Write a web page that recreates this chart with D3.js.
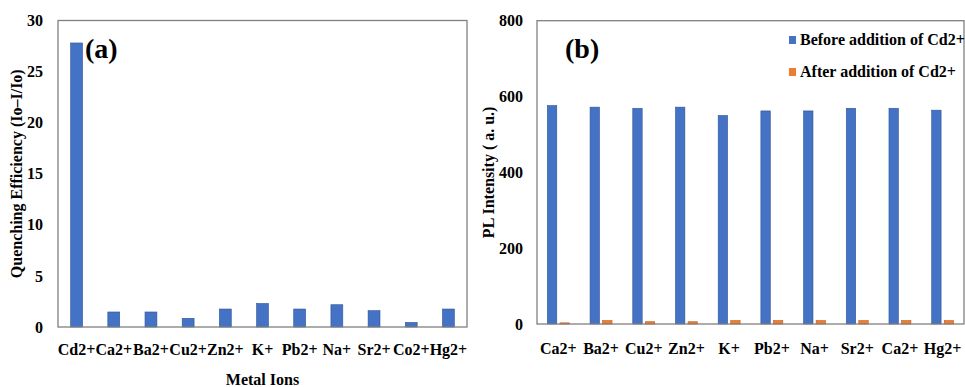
<!DOCTYPE html>
<html><head><meta charset="utf-8">
<script src="https://cdn.jsdelivr.net/npm/d3@7"></script>
<style>
body{margin:0;background:#fff;}
svg text{font-family:"Liberation Serif","Times New Roman",Times,"Nimbus Roman","DejaVu Serif",serif !important;font-weight:bold;fill:#000;}
</style></head>
<body>
<svg id="c" width="965" height="387"></svg>
<script>
// Panel (a)
const ionsA = ["Cd2+","Ca2+","Ba2+","Cu2+","Zn2+","K+","Pb2+","Na+","Sr2+","Co2+","Hg2+"];
const quenching = [27.8,1.47,1.47,0.85,1.76,2.3,1.76,2.18,1.6,0.45,1.76];
const ticksA = [0,5,10,15,20,25,30];
// Panel (b)
const ionsB = ["Ca2+","Ba2+","Cu2+","Zn2+","K+","Pb2+","Na+","Sr2+","Ca2+","Hg2+"];
const before = [576,572,569,572,550,562,562,569,569,564];
const after = [3,9,6,6,9,9,9,9,9,9];
const ticksB = [0,200,400,600,800];
const seriesNames = ["Before addition of Cd2+","After addition of Cd2+"];
const colors = ["#4472C4","#ED7D31"];

const svg = d3.select("#c");
const styleText = g=>g.selectAll("text").attr("font-size",16).attr("font-weight","bold").attr("fill","#000");

// ---------- Panel A ----------
const A = {l:58,r:467,t:20.5,b:327};
const xA = d3.scaleBand().domain(d3.range(ionsA.length)).range([A.l,A.r]).paddingInner(0.68).paddingOuter(0.34);
const yA = d3.scaleLinear().domain([0,30]).range([A.b,A.t]);
const gA = svg.append("g");
gA.selectAll("rect.bar").data(quenching).join("rect")
  .attr("x",(d,i)=>xA(i)).attr("y",d=>yA(d))
  .attr("width",xA.bandwidth()).attr("height",d=>yA(0)-yA(d))
  .attr("fill",colors[0]).attr("stroke","#2F5597").attr("stroke-width",0.6);
gA.append("rect").attr("x",A.l).attr("y",A.t).attr("width",A.r-A.l).attr("height",A.b-A.t)
  .attr("fill","none").attr("stroke","#808080").attr("stroke-width",1.3);
gA.append("g").attr("transform",`translate(${A.l},0)`)
  .call(d3.axisLeft(yA).tickValues(ticksA).tickSize(0).tickPadding(15))
  .call(g=>g.select(".domain").remove()).call(styleText);
gA.append("g").attr("transform",`translate(0,${A.b})`)
  .call(d3.axisBottom(xA).tickFormat(i=>ionsA[i]).tickSize(0).tickPadding(17))
  .call(g=>g.select(".domain").remove()).call(styleText);
gA.append("text").attr("transform",`translate(22,${(A.t+A.b)/2}) rotate(-90)`)
  .attr("text-anchor","middle").attr("font-size",16).text("Quenching Efficiency (Io–I/Io)");
gA.append("text").attr("x",(A.l+A.r)/2).attr("y",385).attr("text-anchor","middle")
  .attr("font-size",16).text("Metal Ions");
gA.append("text").attr("x",85).attr("y",58).attr("font-size",28).text("(a)");

// ---------- Panel B ----------
const B = {l:537,r:964,t:20.7,b:324};
const xB = d3.scaleBand().domain(d3.range(ionsB.length)).range([B.l,B.r]).paddingInner(0.486).paddingOuter(0.243);
const xSub = d3.scaleBand().domain([0,1]).range([0,xB.bandwidth()]).paddingInner(0.25);
const yB = d3.scaleLinear().domain([0,800]).range([B.b,B.t]);
const gB = svg.append("g");
[before, after].forEach((s,k)=>{
  gB.selectAll("rect.s"+k).data(s).join("rect").attr("class","s"+k)
    .attr("x",(d,i)=>xB(i)+xSub(k)).attr("y",d=>yB(d))
    .attr("width",xSub.bandwidth()).attr("height",d=>yB(0)-yB(d))
    .attr("fill",colors[k]).attr("stroke",k===0?"#2F5597":"#C55A11").attr("stroke-width",0.6);
});
gB.append("rect").attr("x",B.l).attr("y",B.t).attr("width",B.r-B.l).attr("height",B.b-B.t)
  .attr("fill","none").attr("stroke","#808080").attr("stroke-width",1.3);
gB.append("g").attr("transform",`translate(${B.l},0)`)
  .call(d3.axisLeft(yB).tickValues(ticksB).tickSize(0).tickPadding(14))
  .call(g=>g.select(".domain").remove()).call(styleText);
gB.append("g").attr("transform",`translate(0,${B.b})`)
  .call(d3.axisBottom(xB).tickFormat(i=>ionsB[i]).tickSize(0).tickPadding(19))
  .call(g=>g.select(".domain").remove()).call(styleText);
gB.append("text").attr("transform",`translate(494,${(B.t+B.b)/2}) rotate(-90)`)
  .attr("text-anchor","middle").attr("font-size",16).text("PL Intensity ( a. u.)");
gB.append("text").attr("x",565).attr("y",58).attr("font-size",28).text("(b)");
const leg = gB.append("g");
seriesNames.forEach((n,k)=>{
  const y = 40 + k*32;
  leg.append("rect").attr("x",789).attr("y",y-4).attr("width",7).attr("height",8).attr("fill",colors[k]);
  leg.append("text").attr("x",800).attr("y",y+5).attr("font-size",16).text(n);
});
</script>
</body></html>
